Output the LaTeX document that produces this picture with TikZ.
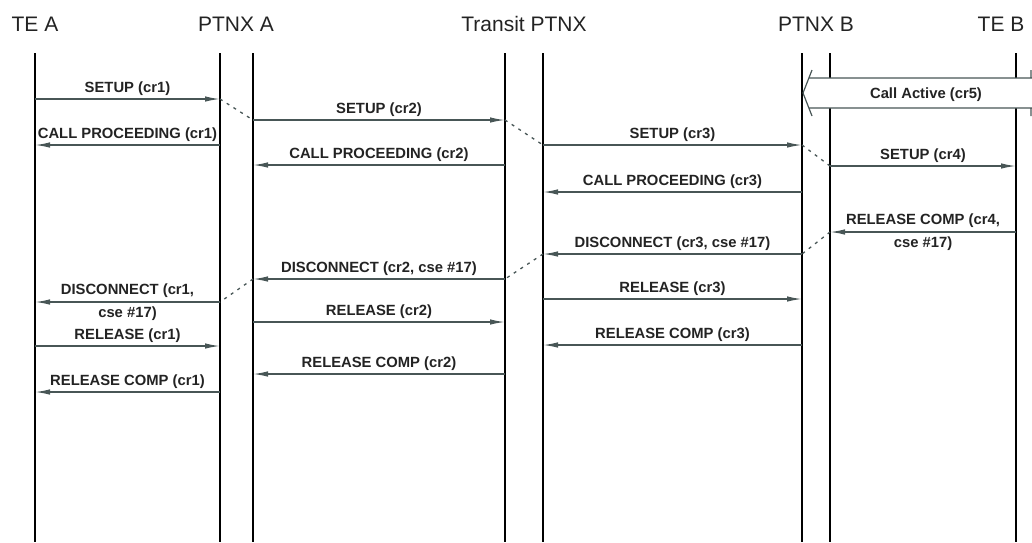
\documentclass[tikz,border=0pt]{standalone}
\usepackage{fontspec}
\setmainfont{Liberation Sans}
\usetikzlibrary{arrows.meta,positioning}
\definecolor{msggray}{RGB}{72,86,86}
\definecolor{txtgray}{RGB}{35,35,35}

\begin{document}
\begin{tikzpicture}[x=1pt,y=-1pt,
  head/.style={font=\fontsize{21}{25}\selectfont, text=txtgray},
  life/.style={draw=black, line width=1.2pt},
  msg/.style={draw=msggray, line width=1.4pt, -{Latex[length=15pt,width=5.5pt]}},
  link/.style={draw=msggray, line width=1.3pt, dash pattern=on 3pt off 5pt},
  lbl/.style={font=\fontsize{14.8}{23}\selectfont\bfseries, text=txtgray, inner sep=3pt},
  twoline/.style={lbl, align=center}]
  \useasboundingbox (0,0) rectangle (1032,542);

  % 見出し
  \node[head] (TEA) at (35,24) {TE A};
  \node[head] (PTNXA) at (236,24) {PTNX A};
  \node[head] (TRANS) at (524,24) {Transit PTNX};
  \node[head] (PTNXB) at (816,24) {PTNX B};
  \node[head] (TEB) at (1001,24) {TE B};

  % 縦線
  \coordinate (a) at (35,53);
  \coordinate (b) at (220,53);
  \coordinate (c) at (253,53);
  \coordinate (d) at (505,53);
  \coordinate (e) at (543,53);
  \coordinate (f) at (802,53);
  \coordinate (g) at (830,53);
  \coordinate (h) at (1016,53);
  \foreach \p in {a,b,c,d,e,f,g,h}
    \draw[life] (\p) -- (\p |- 0,542);

  % Call Active
  \fill[white] (1045,78) -- (810,78) -- (803,93) -- (810,108) -- (1045,108) -- cycle;
  \draw[msggray, line width=1.2pt] (812,70) -- (803,93) -- (812,116)
    (809,78) -- (1045,78) (809,108) -- (1045,108)
    (1031,70) -- (1031,78) (1031,108) -- (1031,116);
  \node[lbl] (active) at (926,95) {Call Active (cr5)};

  % 呼設定
  \draw[msg] (a |- 0,99) -- node[lbl,above] {SETUP (cr1)} (b |- 0,99);
  \draw[msg] (b |- 0,145) -- node[lbl,above] {CALL PROCEEDING (cr1)} (a |- 0,145);
  \draw[msg] (c |- 0,120) -- node[lbl,above] {SETUP (cr2)} (d |- 0,120);
  \draw[msg] (d |- 0,165) -- node[lbl,above] {CALL PROCEEDING (cr2)} (c |- 0,165);
  \draw[msg] (e |- 0,145) -- node[lbl,above] {SETUP (cr3)} (f |- 0,145);
  \draw[msg] (f |- 0,192) -- node[lbl,above] {CALL PROCEEDING (cr3)} (e |- 0,192);
  \draw[msg] (g |- 0,166) -- node[lbl,above] {SETUP (cr4)} (h |- 0,166);

  % 解放
  \draw[msg] (h |- 0,232) -- node[twoline] {RELEASE COMP (cr4,\\cse \#17)} (g |- 0,232);
  \draw[msg] (f |- 0,254) -- node[lbl,above] {DISCONNECT (cr3, cse \#17)} (e |- 0,254);
  \draw[msg] (d |- 0,279) -- node[lbl,above] {DISCONNECT (cr2, cse \#17)} (c |- 0,279);
  \draw[msg] (b |- 0,302) -- node[twoline] {DISCONNECT (cr1,\\cse \#17)} (a |- 0,302);
  \draw[msg] (e |- 0,299) -- node[lbl,above] {RELEASE (cr3)} (f |- 0,299);
  \draw[msg] (c |- 0,322) -- node[lbl,above] {RELEASE (cr2)} (d |- 0,322);
  \draw[msg] (a |- 0,346) -- node[lbl,above] {RELEASE (cr1)} (b |- 0,346);
  \draw[msg] (f |- 0,345) -- node[lbl,above] {RELEASE COMP (cr3)} (e |- 0,345);
  \draw[msg] (d |- 0,374) -- node[lbl,above] {RELEASE COMP (cr2)} (c |- 0,374);
  \draw[msg] (b |- 0,392) -- node[lbl,above] {RELEASE COMP (cr1)} (a |- 0,392);

  % 中継
  \draw[link] (b |- 0,99) -- (c |- 0,120);
  \draw[link] (d |- 0,120) -- (e |- 0,145);
  \draw[link] (f |- 0,145) -- (g |- 0,166);
  \draw[link] (g |- 0,232) -- (f |- 0,254);
  \draw[link] (e |- 0,254) -- (d |- 0,279);
  \draw[link] (c |- 0,279) -- (b |- 0,302);
\end{tikzpicture}
\end{document}
